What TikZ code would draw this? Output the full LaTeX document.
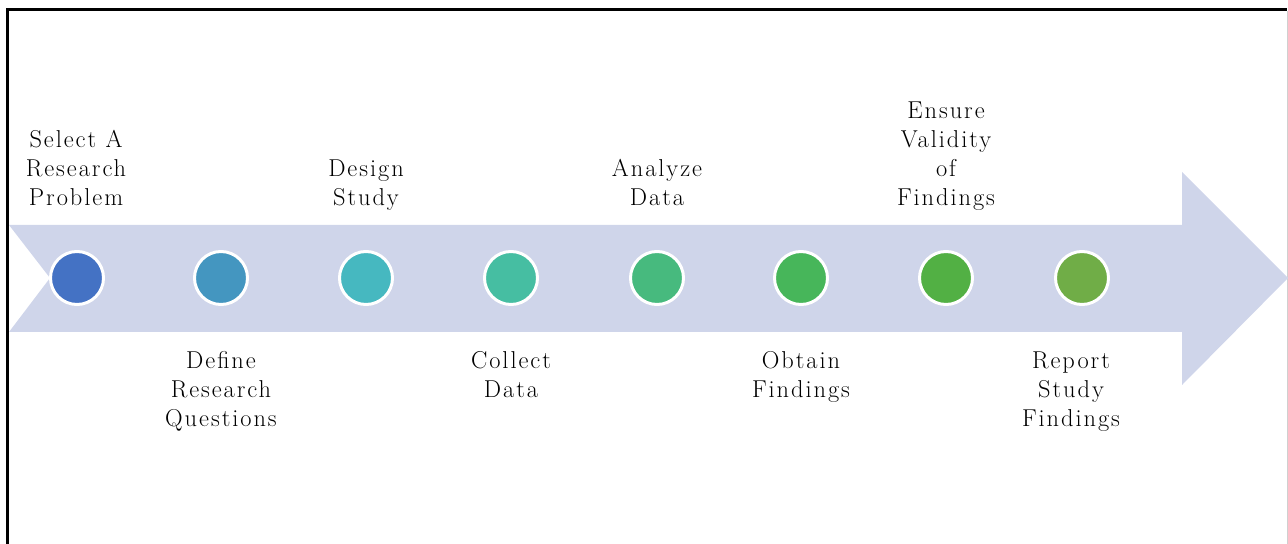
\documentclass[tikz,border=0pt]{standalone}
\usepackage{fontspec}
\usepackage{xcolor}
\definecolor{arrowfill}{HTML}{CFD5EA}
\definecolor{cA}{HTML}{4472C4}
\definecolor{cB}{HTML}{4496C0}
\definecolor{cC}{HTML}{46B8C0}
\definecolor{cD}{HTML}{46BEA2}
\definecolor{cE}{HTML}{47BA7E}
\definecolor{cF}{HTML}{47B65A}
\definecolor{cG}{HTML}{52B044}
\definecolor{cH}{HTML}{70AD47}
\definecolor{framegray}{HTML}{D0D0D0}
\newfontfamily\labelfam[LetterSpace=8]{Latin Modern Roman}
\newcommand{\lbl}[1]{\strut #1}
\begin{document}
\begin{tikzpicture}[x=1bp,y=-1bp,
  dot/.style={circle,draw=white,line width=3bp,minimum size=53bp,inner sep=0},
  labelfont/.style={font=\labelfam\fontsize{24.5}{29}\selectfont},
  uplabel/.style={anchor=south,align=center,inner sep=0,labelfont},
  downlabel/.style={anchor=north,align=center,inner sep=0,labelfont}]
\useasboundingbox (0,0) rectangle (1288,544);
% frame
\draw[line width=3bp,black] (7.5,544) -- (7.5,10) -- (1287,10);
\draw[line width=1bp,framegray] (1287.5,11.5) -- (1287.5,544);
% arrow
\fill[arrowfill] (9,225) -- (1182,225) -- (1182,172) -- (1288,278) -- (1182,385) -- (1182,332) -- (9,332) -- (50,278) -- cycle;
% circles
\node[dot,fill=cA] (d1) at (77,278) {};
\node[dot,fill=cB] (d2) at (221,278) {};
\node[dot,fill=cC] (d3) at (366,278) {};
\node[dot,fill=cD] (d4) at (511,278) {};
\node[dot,fill=cE] (d5) at (657,278) {};
\node[dot,fill=cF] (d6) at (801,278) {};
\node[dot,fill=cG] (d7) at (946,278) {};
\node[dot,fill=cH] (d8) at (1082,278) {};
% labels above
\node[uplabel] (t1) at (76,214) {\lbl{Select A}\\\lbl{Research}\\\lbl{Problem}};
\node[uplabel] (t3) at (366,214) {\lbl{Design}\\\lbl{Study}};
\node[uplabel] (t5) at (657,214) {\lbl{Analyze}\\\lbl{Data}};
\node[uplabel] (t7) at (946,214) {\lbl{Ensure}\\\lbl{Validity}\\\lbl{of}\\\lbl{Findings}};
% labels below
\node[downlabel] (t2) at (221,348) {\lbl{Define}\\\lbl{Research}\\\lbl{Questions}};
\node[downlabel] (t4) at (511,348) {\lbl{Collect}\\\lbl{Data}};
\node[downlabel] (t6) at (801,348) {\lbl{Obtain}\\\lbl{Findings}};
\node[downlabel] (t8) at (1071,348) {\lbl{Report}\\\lbl{Study}\\\lbl{Findings}};
\end{tikzpicture}
\end{document}
